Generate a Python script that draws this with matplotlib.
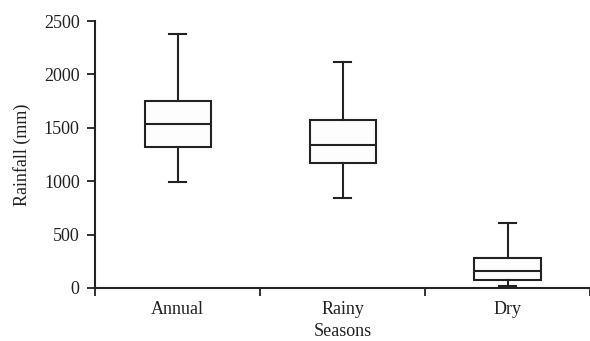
import matplotlib
matplotlib.use("Agg")
import matplotlib.pyplot as plt

plt.rcParams['font.family'] = ['Liberation Serif', 'DejaVu Serif']

categories = ["Annual", "Rainy", "Dry"]
whislo = [993, 843, 19]
q1 = [1323, 1170, 72]
med = [1533, 1342, 156]
q3 = [1751, 1573, 278]
whishi = [2381, 2119, 611]

stats = []
for c, lo, a, m, b, hi in zip(categories, whislo, q1, med, q3, whishi):
    stats.append(dict(label=c, whislo=lo, q1=a, med=m, q3=b, whishi=hi, fliers=[]))

fig = plt.figure(figsize=(5.9, 3.41), dpi=100)
ax = fig.add_axes([95/590, 1-288/341, 1-95/590, (288-21)/341])

lw = 1.5
col = '#222222'
tcol = '#222222'
fs = 13
ax.bxp(stats, positions=[1, 2, 3], widths=0.4, showfliers=False, patch_artist=True,
       boxprops=dict(facecolor='#fdfdfd', edgecolor=col, linewidth=lw),
       medianprops=dict(color=col, linewidth=lw),
       whiskerprops=dict(color=col, linewidth=lw),
       capprops=dict(color=col, linewidth=lw), capwidths=0.1)

ax.set_xlim(0.5, 3.5)
ax.set_ylim(0, 2500)
ax.set_yticks([0, 500, 1000, 1500, 2000, 2500])
ax.set_xticks([0.5, 1.5, 2.5, 3.5])
ax.set_xticklabels([])
ax.set_xticks([1, 2, 3], minor=True)
ax.set_xticklabels(categories, minor=True)
ax.tick_params(axis='x', which='minor', length=0, pad=9, labelsize=fs, colors=tcol)
ax.tick_params(axis='x', which='major', length=6, width=1.3, direction='out', color=col)
ax.tick_params(axis='y', length=6, width=1.3, direction='out', pad=5, labelsize=fs, color=col, labelcolor=tcol)
for s in ['top', 'right']:
    ax.spines[s].set_visible(False)
for s in ['left', 'bottom']:
    ax.spines[s].set_linewidth(1.5)
    ax.spines[s].set_color(col)
ax.set_ylabel("Rainfall (mm)", fontsize=fs, color=tcol, labelpad=9)
ax.set_xlabel("Seasons", fontsize=fs, color=tcol, labelpad=4)

fig.savefig("out.png", dpi=100)
